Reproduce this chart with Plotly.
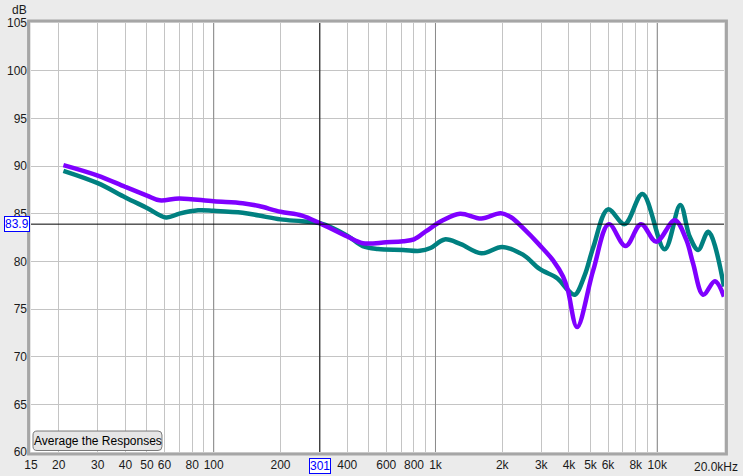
import math
import plotly.graph_objects as go

# ---- data ----
freq_teal = [21, 30, 40, 50, 61, 70, 85, 100, 135, 160, 200, 250, 301, 400, 470, 550, 714, 850,
             950, 1100, 1300, 1610, 2000, 2480, 2950, 3550, 3950, 4250, 4700, 5150, 6000, 7130,
             8580, 10800, 12700, 14000, 15300, 17000, 20000]
db_teal = [89.5, 88.2, 86.7, 85.6, 84.6, 85.0, 85.35, 85.3, 85.1, 84.8, 84.4, 84.2, 84.0, 82.7, 81.6,
           81.3, 81.2, 81.1, 81.4, 82.3, 81.8, 80.84, 81.5, 80.7, 79.2, 78.2, 77.0, 76.5, 78.5, 81.5,
           85.45, 83.9, 87.06, 81.26, 85.9, 82.6, 81.2, 83.1, 77.35]

freq_purple = [21, 30, 40, 50, 57, 70, 100, 135, 160, 200, 250, 301, 400, 470, 600, 714, 800, 911,
               1080, 1290, 1610, 1970, 2200, 2480, 2950, 3390, 3760, 3950, 4350, 5150, 6050, 7200,
               8450, 9900, 12000, 13500, 14500, 16100, 18200, 20000]
db_purple = [90.1, 89.0, 87.8, 86.9, 86.4, 86.6, 86.3, 86.1, 85.8, 85.2, 84.8, 84.0, 82.6, 81.9, 82.0,
             82.1, 82.3, 83.2, 84.3, 85.0, 84.5, 85.05, 84.6, 83.5, 81.7, 80.1, 78.4, 77.0, 73.1, 79.1,
             83.9, 81.6, 83.9, 82.06, 84.3, 82.3, 79.8, 76.5, 77.9, 76.3]

x_tick_vals = [15, 20, 30, 40, 50, 60, 80, 100, 200, 400, 600, 800, 1000, 2000, 3000, 4000, 5000,
               6000, 8000, 10000]
x_tick_text = ["15", "20", "30", "40", "50", "60", "80", "100", "200", "400", "600", "800", "1k",
               "2k", "3k", "4k", "5k", "6k", "8k", "10k"]
x_minor_grid = [70, 90, 300, 500, 700, 900, 7000, 9000]
x_decades = [100, 1000, 10000]
y_tick_vals = [60, 65, 70, 75, 80, 85, 90, 95, 100, 105]

cursor_freq = 301
cursor_db = 83.9

FONT = "Liberation Sans, Arial, sans-serif"
fig = go.Figure()

# darker decade gridlines
for d in x_decades:
    fig.add_trace(go.Scatter(x=[d, d], y=[60, 105], mode="lines",
                             line=dict(color="#8a8a8a", width=1), hoverinfo="skip", showlegend=False))

fig.add_trace(go.Scatter(x=freq_teal, y=db_teal, mode="lines",
                         line=dict(color="#008080", width=4.5, shape="spline", smoothing=1.0),
                         showlegend=False))
fig.add_trace(go.Scatter(x=freq_purple, y=db_purple, mode="lines",
                         line=dict(color="#7f00ff", width=4.5, shape="spline", smoothing=1.0),
                         showlegend=False))

# cursor lines
fig.add_trace(go.Scatter(x=[cursor_freq, cursor_freq], y=[60, 105], mode="lines",
                         line=dict(color="black", width=1), hoverinfo="skip", showlegend=False))
fig.add_trace(go.Scatter(x=[15, 20000], y=[cursor_db, cursor_db], mode="lines",
                         line=dict(color="black", width=1), hoverinfo="skip", showlegend=False))

fig.update_layout(
    width=743, height=476,
    margin=dict(l=31, r=19, t=23, b=24, autoexpand=False),
    paper_bgcolor="#ebebeb",
    plot_bgcolor="white",
    font=dict(family=FONT, size=12, color="#1a1a1a"),
    xaxis=dict(type="log", range=[math.log10(15), math.log10(20000)], automargin=False,
               tickvals=x_tick_vals, ticktext=x_tick_text, ticks="",
               showgrid=True, gridcolor="#c4c4c4", gridwidth=1,
               minor=dict(tickvals=x_minor_grid, showgrid=True, gridcolor="#c4c4c4", ticks=""),
               zeroline=False, showline=False, fixedrange=True, ticklabelstandoff=4),
    yaxis=dict(range=[60, 105], tickvals=y_tick_vals, ticks="", automargin=False,
               showgrid=True, gridcolor="#c4c4c4", gridwidth=1,
               zeroline=False, showline=False, ticklabelstandoff=3),
    shapes=[
        # plot frame
        dict(type="rect", xref="paper", yref="paper", x0=-0.0035, x1=1.0035, y0=-0.0045, y1=1.0045,
             line=dict(color="#a6a6a6", width=3), layer="above"),
        # button
        dict(type="path", xref="paper", yref="paper",
             path="M 0.0087 0.0035 L 0.1833 0.0035 Q 0.1890 0.0035 0.1890 0.0128 L 0.1890 0.0396 "
                  "Q 0.1890 0.0489 0.1833 0.0489 L 0.0087 0.0489 Q 0.0029 0.0489 0.0029 0.0396 "
                  "L 0.0029 0.0128 Q 0.0029 0.0035 0.0087 0.0035 Z",
             fillcolor="#e6e6e6", line=dict(color="#7a7a7a", width=1), layer="above"),
    ],
    annotations=[
        dict(text="dB", xref="paper", yref="paper", x=0, y=1, xanchor="center", yanchor="middle",
             xshift=-12, yshift=13, showarrow=False, font=dict(size=12)),
        dict(text="20.0kHz", xref="x", yref="paper", x=math.log10(20000), y=0, xanchor="right",
             yanchor="top", xshift=16, yshift=-6, showarrow=False, font=dict(size=12)),
        dict(text="Average the Responses", xref="paper", yref="paper", x=0.096, y=0.026,
             xanchor="center", yanchor="middle",
             showarrow=False, font=dict(size=12, color="black")),
        dict(text="301", xref="x", yref="paper", x=math.log10(cursor_freq), y=0, xanchor="center",
             yanchor="top", yshift=-6, showarrow=False, font=dict(size=12, color="#0000ff"),
             bgcolor="white", bordercolor="#0000ff", borderwidth=1, borderpad=0),
        dict(text="83.9", xref="paper", yref="y", x=0, y=cursor_db, xanchor="right", yanchor="middle",
             xshift=-1, showarrow=False, font=dict(size=12, color="#0000ff"),
             bgcolor="white", bordercolor="#0000ff", borderwidth=1, borderpad=0),
    ],
)

fig.write_html("out.html", config={"displayModeBar": False},
               post_script="document.body.style.margin='0';")
